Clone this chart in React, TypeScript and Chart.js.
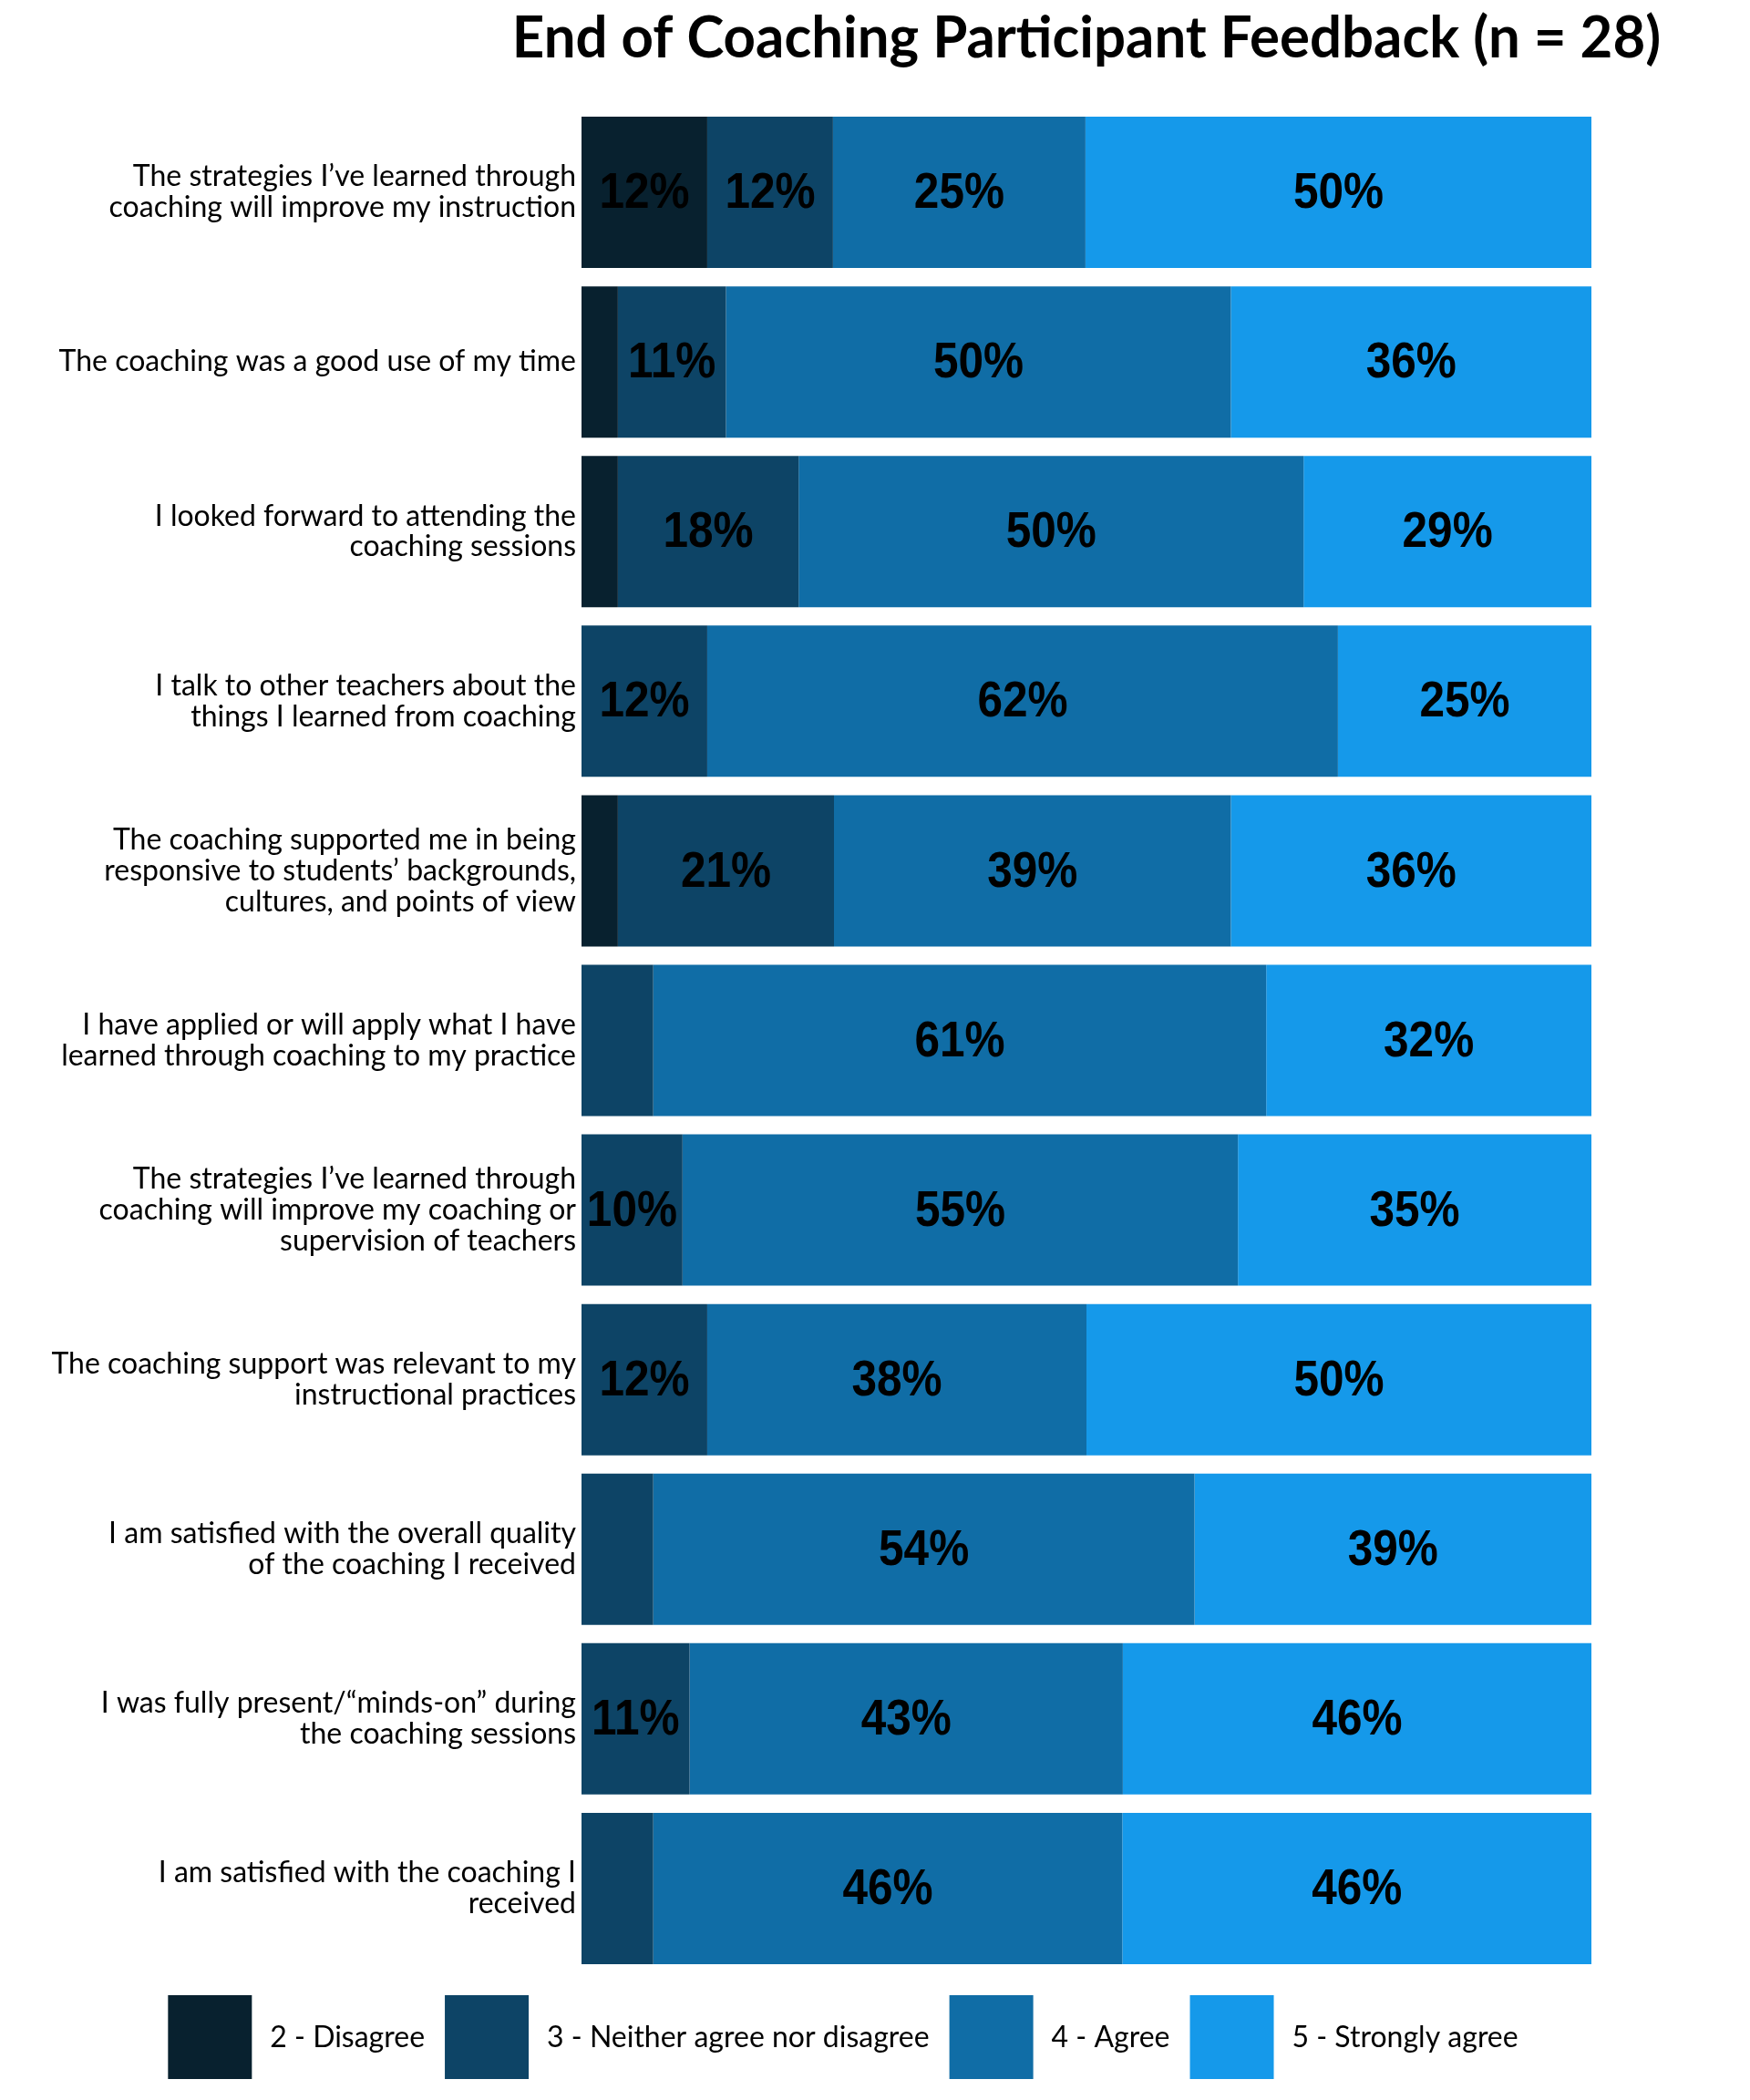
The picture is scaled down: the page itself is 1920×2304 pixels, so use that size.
import React, { useEffect, useRef } from "react";
import { Chart, registerables } from "chart.js";

Chart.register(...registerables);

const categories: (string | string[])[] = [
  ["The strategies I’ve learned through", "coaching will improve my instruction"],
  "The coaching was a good use of my time",
  ["I looked forward to attending the", "coaching sessions"],
  ["I talk to other teachers about the", "things I learned from coaching"],
  ["The coaching supported me in being", "responsive to students’ backgrounds,", "cultures, and points of view"],
  ["I have applied or will apply what I have", "learned through coaching to my practice"],
  ["The strategies I’ve learned through", "coaching will improve my coaching or", "supervision of teachers"],
  ["The coaching support was relevant to my", "instructional practices"],
  ["I am satisfied with the overall quality", "of the coaching I received"],
  ["I was fully present/“minds-on” during", "the coaching sessions"],
  ["I am satisfied with the coaching I", "received"],
];

const seriesNames = [
  "2 - Disagree",
  "3 - Neither agree nor disagree",
  "4 - Agree",
  "5 - Strongly agree",
];
const seriesColors = ["#08212f", "#0d4466", "#106da6", "#1599ea"];

// Percent values per response level
const disagree = [12.45, 3.6, 3.6, 0, 3.6, 0, 0, 0, 0, 0, 0];
const neither = [12.45, 10.7, 17.9, 12.45, 21.4, 7.1, 10, 12.45, 7.1, 10.7, 7.1];
const agree = [25, 50, 50, 62.45, 39.3, 60.7, 55, 37.55, 53.6, 42.9, 46.45];
const stronglyAgree = [50.1, 35.7, 28.5, 25.1, 35.7, 32.2, 35, 50, 39.3, 46.4, 46.45];

const titleText = "End of Coaching Participant Feedback (n = 28)";
const labelMinValue = 8;

const W = 1920;
const H = 2304;

const overlayPlugin = {
  id: "overlay",
  afterDatasetsDraw(chart: any) {
    const ctx = chart.ctx as CanvasRenderingContext2D;
    ctx.save();
    ctx.fillStyle = "#000";
    ctx.textAlign = "center";
    ctx.textBaseline = "middle";
    ctx.font = "bold 55px 'Liberation Sans', Arial, sans-serif";
    chart.data.datasets.forEach((ds: any, di: number) => {
      const meta = chart.getDatasetMeta(di);
      meta.data.forEach((el: any, i: number) => {
        const v = ds.data[i];
        if (v < labelMinValue) return;
        const cx = (el.x + el.base) / 2;
        ctx.save();
        ctx.translate(cx, el.y + 2);
        ctx.scale(0.9, 1);
        ctx.fillText(Math.round(v) + "%", 0, 0);
        ctx.restore();
      });
    });
    ctx.restore();
  },
  afterDraw(chart: any) {
    const ctx = chart.ctx as CanvasRenderingContext2D;
    const area = chart.chartArea;
    // Title
    ctx.save();
    ctx.fillStyle = "#000";
    ctx.textAlign = "center";
    ctx.textBaseline = "alphabetic";
    ctx.font = "bold 64px Lato, sans-serif";
    ctx.translate((area.left + area.right) / 2, 63);
    ctx.scale(0.965, 1);
    ctx.fillText(titleText, 0, 0);
    ctx.restore();

    // Legend
    ctx.save();
    ctx.font = "32px Lato, sans-serif";
    ctx.textBaseline = "middle";
    ctx.textAlign = "left";
    const box = 92;
    const gapText = 20;
    const gapItem = 22;
    const widths = seriesNames.map((n) => ctx.measureText(n).width);
    const total =
      widths.reduce((a, b) => a + b, 0) + seriesNames.length * (box + gapText) + (seriesNames.length - 1) * gapItem;
    let x = 925 - total / 2;
    const top = area.bottom + 24;
    seriesNames.forEach((n, i) => {
      ctx.fillStyle = seriesColors[i];
      ctx.fillRect(x, top, box, box);
      x += box + gapText;
      ctx.fillStyle = "#000";
      ctx.fillText(n, x, top + box / 2 + 1);
      x += widths[i] + gapItem;
    });
    ctx.restore();
  },
};

export default function App() {
  const ref = useRef<HTMLCanvasElement | null>(null);

  useEffect(() => {
    document.body.style.margin = "0";
    const canvas = ref.current!;
    const series = [disagree, neither, agree, stronglyAgree];
    const chart = new Chart(canvas, {
      type: "bar",
      data: {
        labels: categories,
        datasets: series.map((d, i) => ({
          label: seriesNames[i],
          data: d,
          backgroundColor: seriesColors[i],
          borderWidth: 0,
          barPercentage: 0.892,
          categoryPercentage: 1,
        })),
      },
      options: {
        indexAxis: "y",
        responsive: false,
        animation: false,
        devicePixelRatio: 1,
        layout: { padding: { top: 118, bottom: 139, right: 174, left: 0 } },
        plugins: {
          legend: { display: false },
          title: { display: false },
          tooltip: { enabled: false },
        },
        scales: {
          x: { stacked: true, min: 0, max: 100, display: false },
          y: {
            stacked: true,
            grid: { display: false, drawTicks: false },
            border: { display: false },
            afterFit: (scale: any) => {
              scale.width = 638;
            },
            ticks: {
              color: "#000",
              padding: 6,
              font: { family: "Lato, sans-serif", size: 32, lineHeight: 1.06 },
            },
          },
        },
      },
      plugins: [overlayPlugin],
    });
    return () => chart.destroy();
  }, []);

  return (
    <div style={{ position: "absolute", left: 0, top: 0, width: W, height: H, background: "#fff" }}>
      <canvas ref={ref} width={W} height={H} style={{ width: W, height: H, display: "block" }} />
    </div>
  );
}
